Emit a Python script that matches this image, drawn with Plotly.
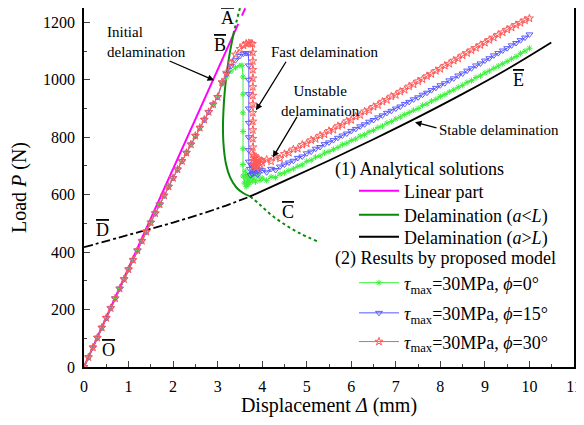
import plotly.graph_objects as go

# ---------------- analytical solutions ----------------
linear_x = [0.0, 3.38]
linear_p = [0, 1166]
linear_ext_x = [3.38, 3.62]
linear_ext_p = [1166, 1249]

dlt_top_x = [3.50, 3.44, 3.37]
dlt_top_p = [1250, 1210, 1170]
dlt_x = [3.37, 3.28, 3.21, 3.16, 3.13, 3.12, 3.14, 3.19, 3.28, 3.42, 3.58, 3.73]
dlt_p = [1170, 1100, 1030, 960, 890, 820, 760, 705, 660, 625, 605, 594]
dlt_tail_x = [3.73, 3.95, 4.2, 4.5, 4.85, 5.25]
dlt_tail_p = [594, 565, 530, 497, 465, 437]

dgt_ext_x = [0.0, 1.0, 2.0, 3.0, 3.73]
dgt_ext_p = [417, 460, 503, 552, 594]
dgt_x = [3.73, 4.5, 5.5, 6.5, 7.5, 8.5, 9.5, 10.49]
dgt_p = [594, 648, 719, 793, 870, 951, 1037, 1130]

# ---------------- proposed model results ----------------
rise_x = [0.0, 0.1, 0.2, 0.3, 0.4, 0.5, 0.6, 0.7, 0.8, 0.9, 1.0, 1.1, 1.2, 1.3, 1.4, 1.5,
          1.6, 1.7, 1.8, 1.9, 2.0, 2.1, 2.2, 2.3, 2.4, 2.5, 2.6, 2.7, 2.8, 2.9, 3.0]
rise_p = [0, 34, 68, 102, 137, 171, 205, 239, 273, 306, 340, 373, 406, 439, 471, 503,
          535, 566, 597, 628, 658, 688, 717, 746, 775, 805, 833, 861, 888, 914, 940]

post_x = [4.0, 4.1, 4.2, 4.3, 4.4, 4.5, 4.6, 4.7, 4.8, 4.9, 5.0, 5.1, 5.2, 5.3, 5.4, 5.5,
          5.6, 5.7, 5.8, 5.9, 6.0, 6.1, 6.2, 6.3, 6.4, 6.5, 6.6, 6.7, 6.8, 6.9, 7.0, 7.1,
          7.2, 7.3, 7.4, 7.5, 7.6, 7.7, 7.8, 7.9, 8.0, 8.1, 8.2, 8.3, 8.4, 8.5, 8.6, 8.7,
          8.8, 8.9, 9.0, 9.1, 9.2, 9.3, 9.4, 9.5, 9.6, 9.7, 9.8, 9.9, 10.0]

# phi = 0
g_mid_x = [3.1, 3.2, 3.3, 3.4, 3.5, 3.55, 3.57, 3.57, 3.57, 3.57, 3.57, 3.57, 3.57,
           3.6, 3.62, 3.64, 3.66, 3.68, 3.7, 3.72, 3.75, 3.78, 3.8, 3.85, 3.9, 3.95]
g_mid_p = [985, 1010, 1030, 1042, 1050, 1050, 1010, 950, 885, 820, 760, 705, 665,
           640, 682, 628, 668, 635, 660, 642, 670, 648, 662, 645, 668, 650]
g_post_p = [658, 650, 662, 660, 672, 676, 684, 690, 699, 704, 716, 720, 731, 735, 745, 750,
            758, 764, 774, 779, 789, 794, 804, 809, 819, 824, 834, 839, 849, 855, 864, 870,
            879, 886, 894, 900, 911, 916, 926, 932, 942, 949, 958, 965, 974, 981, 991, 997,
            1008, 1014, 1024, 1031, 1040, 1048, 1056, 1064, 1073, 1081, 1092, 1100, 1110]

# phi = 15
b_mid_x = [3.1, 3.2, 3.3, 3.4, 3.5, 3.58, 3.64, 3.69, 3.70, 3.70, 3.70, 3.70, 3.70, 3.70,
           3.70, 3.70, 3.72, 3.74, 3.76, 3.78, 3.8, 3.83, 3.86, 3.9, 3.95]
b_mid_p = [990, 1020, 1048, 1068, 1083, 1091, 1093, 1092, 1050, 1000, 950, 900, 850, 800,
           755, 715, 690, 668, 702, 672, 695, 675, 690, 670, 688]
b_post_p = [685, 678, 690, 686, 698, 705, 712, 718, 728, 733, 744, 750, 760, 766, 776, 782,
            790, 798, 806, 813, 822, 829, 838, 845, 854, 860, 869, 876, 885, 892, 900, 907,
            916, 923, 932, 939, 948, 955, 964, 972, 981, 988, 998, 1005, 1015, 1022, 1032, 1040,
            1050, 1057, 1067, 1075, 1085, 1093, 1102, 1110, 1120, 1128, 1138, 1147, 1158]

# phi = 30
r_mid_x = [3.1, 3.2, 3.3, 3.4, 3.5, 3.58, 3.64, 3.7, 3.75, 3.78, 3.79, 3.79, 3.79, 3.79,
           3.79, 3.79, 3.79, 3.79, 3.79, 3.79, 3.79, 3.79, 3.79, 3.8, 3.81, 3.82, 3.83, 3.84,
           3.86, 3.88, 3.9, 3.92, 3.95, 3.98]
r_mid_p = [992, 1025, 1058, 1088, 1108, 1120, 1126, 1128, 1127, 1125, 1095, 1065, 1035, 1005,
           975, 945, 915, 885, 855, 825, 795, 765, 740, 718, 700, 735, 705, 728,
           695, 722, 700, 725, 708, 718]
r_post_p = [712, 722, 716, 732, 726, 742, 746, 758, 760, 774, 778, 790, 794, 806, 810, 822,
            826, 839, 843, 856, 860, 872, 877, 890, 894, 906, 912, 924, 930, 942, 947, 959,
            965, 977, 984, 995, 1002, 1013, 1020, 1031, 1038, 1049, 1056, 1067, 1074, 1085, 1093, 1103,
            1111, 1121, 1129, 1139, 1147, 1157, 1165, 1175, 1182, 1191, 1198, 1207, 1214]

FONT = "Liberation Serif, Times New Roman, serif"
MAGENTA = "#ff00ff"
DKGREEN = "#0a8a0a"

fig = go.Figure()

# analytical
fig.add_trace(go.Scatter(x=linear_x, y=linear_p, mode="lines", name="Linear part",
                         line=dict(color=MAGENTA, width=2), legend="legend"))
fig.add_trace(go.Scatter(x=linear_ext_x, y=linear_ext_p, mode="lines", showlegend=False,
                         line=dict(color=MAGENTA, width=2, dash="dash")))
fig.add_trace(go.Scatter(x=dlt_top_x, y=dlt_top_p, mode="lines", showlegend=False,
                         line=dict(color=DKGREEN, width=2, dash="dot")))
fig.add_trace(go.Scatter(x=dlt_x, y=dlt_p, mode="lines", name="Delamination (<i>a</i>&lt;<i>L</i>)",
                         line=dict(color=DKGREEN, width=2, shape="spline"), legend="legend3"))
fig.add_trace(go.Scatter(x=dlt_tail_x, y=dlt_tail_p, mode="lines", showlegend=False,
                         line=dict(color=DKGREEN, width=2, dash="dot", shape="spline")))
fig.add_trace(go.Scatter(x=dgt_ext_x, y=dgt_ext_p, mode="lines", showlegend=False,
                         line=dict(color="black", width=1.8, dash="dashdot", shape="spline")))
fig.add_trace(go.Scatter(x=dgt_x, y=dgt_p, mode="lines", name="Delamination (<i>a</i>&gt;<i>L</i>)",
                         line=dict(color="black", width=1.8, shape="spline"), legend="legend4"))

# simulations
sims = [
    ("<i>τ</i><sub>max</sub>=30MPa, <i>ϕ</i>=0°", g_mid_x, g_mid_p, g_post_p, "#3cf03c", "asterisk-open", 5, "legend2"),
    ("<i>τ</i><sub>max</sub>=30MPa, <i>ϕ</i>=15°", b_mid_x, b_mid_p, b_post_p, "#5a5aff", "triangle-down-open", 6, "legend5"),
    ("<i>τ</i><sub>max</sub>=30MPa, <i>ϕ</i>=30°", r_mid_x, r_mid_p, r_post_p, "#ff5a5a", "star-open", 6, "legend6"),
]
for nm, mx, mp, pp, col, sym, sz, lg in sims:
    fig.add_trace(go.Scatter(x=rise_x + mx + post_x, y=rise_p + mp + pp, mode="lines+markers",
                             name=nm, legend=lg,
                             line=dict(color=col, width=1),
                             marker=dict(symbol=sym, size=sz, color=col, line=dict(width=1, color=col))))

ann = []
def txt(x, y, t, size=15, xanchor="center", align="center"):
    ann.append(dict(x=x, y=y, xref="x", yref="y", text=t, showarrow=False,
                    font=dict(family=FONT, size=size, color="black"),
                    xanchor=xanchor, yanchor="middle", align=align))

def arrow(x, y, ax, ay):
    ann.append(dict(x=x, y=y, xref="x", yref="y", ax=ax, ay=ay, text="", showarrow=True,
                    arrowhead=2, arrowsize=1, arrowwidth=1.3, arrowcolor="black", standoff=0))

ov = "<span style='text-decoration:overline'>%s</span>"
txt(3.23, 1214, ov % "A", 18)
txt(3.05, 1120, ov % "B", 18)
txt(4.58, 539, ov % "C", 18)
txt(0.42, 478, ov % "D", 18)
txt(9.76, 1000, ov % "E", 18)
txt(0.56, 59, ov % "O", 18)

txt(0.47, 1130, "Initial<br>delamination", xanchor="left", align="left")
txt(5.40, 1096, "Fast delamination")
txt(5.30, 925, "Unstable<br>delamination")
txt(9.32, 824, "Stable delamination")

arrow(2.92, 998, -46, -20)
arrow(3.86, 894, 31, -50)
arrow(4.24, 730, 25, -42)
arrow(7.43, 852, 23, 6)

ann.append(dict(x=0.508, y=0.549, xref="paper", yref="paper", text="(1) Analytical solutions",
                showarrow=False, xanchor="left", yanchor="middle",
                font=dict(family=FONT, size=18, color="black")))
ann.append(dict(x=0.508, y=0.301, xref="paper", yref="paper", text="(2) Results by proposed model",
                showarrow=False, xanchor="left", yanchor="middle",
                font=dict(family=FONT, size=18, color="black")))

def lg(y):
    return dict(x=0.551, y=y, xanchor="left", yanchor="middle", bgcolor="rgba(0,0,0,0)",
                font=dict(family=FONT, size=18, color="black"), itemwidth=40)

# the page body has an 8px default margin on every side, so the figure is sized
# to fit inside the 584x425 window without overflowing it
fig.update_layout(
    width=576, height=409,
    margin=dict(l=76, r=10, t=0, b=50),
    paper_bgcolor="white", plot_bgcolor="white",
    font=dict(family=FONT, size=16, color="black"),
    annotations=ann,
    showlegend=True,
    legend=lg(0.490), legend3=lg(0.423), legend4=lg(0.362),
    legend2=lg(0.234), legend5=lg(0.150), legend6=lg(0.070),
)
fig.update_xaxes(range=[0, 11], dtick=1, tick0=0, ticks="inside", ticklen=6, tickwidth=1.2,
                 showline=True, linecolor="black", linewidth=1.5, mirror=True, showgrid=False,
                 zeroline=False, tickfont=dict(family=FONT, size=16), automargin=False,
                 ticklabelstandoff=4,
                 minor=dict(dtick=0.5, ticks="inside", ticklen=3, tickwidth=1.2, showgrid=False),
                 title=dict(text="Displacement <i>Δ</i> (mm)", font=dict(family=FONT, size=20), standoff=3))
fig.update_yaxes(range=[0, 1250], dtick=200, tick0=0, ticks="inside", ticklen=6, tickwidth=1.2,
                 showline=True, linecolor="black", linewidth=1.5, mirror=True, showgrid=False,
                 zeroline=False, tickfont=dict(family=FONT, size=16), automargin=False,
                 ticklabelstandoff=4,
                 minor=dict(dtick=100, ticks="inside", ticklen=3, tickwidth=1.2, showgrid=False),
                 title=dict(text="Load <i>P</i> (N)", font=dict(family=FONT, size=20), standoff=14))

fig.write_html("out.html")
